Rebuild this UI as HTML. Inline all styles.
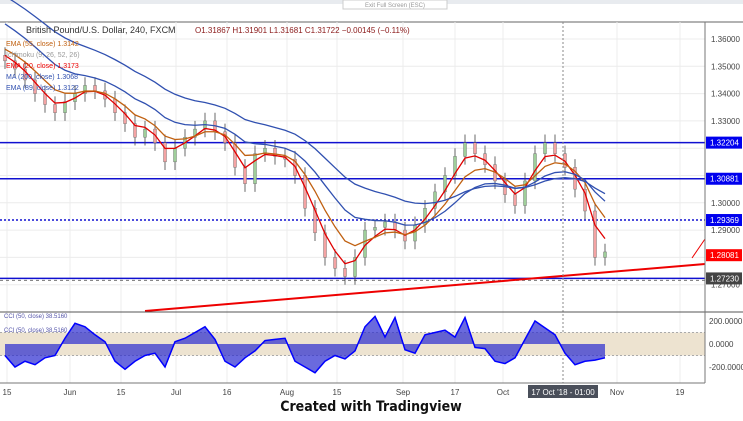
<!DOCTYPE html>
<html><head><meta charset="utf-8"><style>
body{margin:0;width:743px;height:421px;background:#fff;overflow:hidden;font-family:"Liberation Sans",sans-serif}
svg{position:absolute;left:0;top:0}
</style></head><body>
<svg width="743" height="421">
<rect x="0" y="0" width="743" height="4" fill="#e8ebef"/>
<rect x="343" y="0" width="104" height="9" fill="#fff" stroke="#ccc"/>
<text x="395" y="7" font-size="6" fill="#999" text-anchor="middle">Exit Full Screen (ESC)</text>
<line x1="0" y1="22" x2="743" y2="22" stroke="#666"/>
<g id="grid"></g>
<g id="price"></g>
<g id="cci"></g>
<g id="axes"></g>
<text x="371" y="411" font-size="14" font-weight="bold" fill="#111" text-anchor="middle" font-family="'DejaVu Sans Condensed','Liberation Sans Narrow',sans-serif">Created with Tradingview</text>
</svg>
<script>
const closes=[1.352,1.349,1.345,1.340,1.336,1.333,1.337,1.340,1.343,1.341,1.338,1.333,1.329,1.324,1.327,1.322,1.315,1.320,1.324,1.327,1.330,1.326,1.322,1.313,1.307,1.318,1.320,1.317,1.316,1.310,1.298,1.289,1.280,1.276,1.273,1.280,1.290,1.291,1.293,1.290,1.286,1.292,1.298,1.304,1.310,1.317,1.322,1.318,1.314,1.308,1.303,1.299,1.308,1.318,1.322,1.318,1.313,1.305,1.297,1.280,1.282];
const cciValues=[-100,-200,-150,-180,-120,-100,50,180,150,80,20,-150,-220,-150,-100,-80,-200,20,50,100,150,40,-150,-200,-120,-60,30,40,50,-150,-200,-250,-150,-100,-130,-60,150,240,60,230,-50,-80,80,100,120,60,230,-30,-40,-150,-170,-120,40,200,140,80,-80,-180,-150,-140,-120];
const priceTicks=[1.36,1.35,1.34,1.33,1.30,1.29,1.27];
const levels=[1.32204,1.30881,1.29369,1.27230];
const timeLabels=["15","Jun","15","Jul","16","Aug","15","Sep","17","Oct","Nov","19"];
const timeIdx=[0.2,6.5,11.6,17.1,22.2,28.2,33.2,39.8,45,49.8,61.2,67.5];
const cciTicks=[200,0,-200];
const NS="http://www.w3.org/2000/svg";
const py=p=>39+(1.36-p)*2730;
const px=i=>5+i*10;
const cy=v=>344-v*0.115;
function mk(tag,attrs,parent){const e=document.createElementNS(NS,tag);for(const k in attrs)e.setAttribute(k,attrs[k]);document.getElementById(parent).appendChild(e);return e;}
timeIdx.forEach(t=>{const l=mk('line',{x1:px(t),x2:px(t),y1:22,y2:383,stroke:'#ececec'},'grid');

});
[1.36,1.35,1.34,1.33,1.32,1.31,1.30,1.29,1.28,1.27].forEach(p=>{const l=mk('line',{x1:0,x2:705,y1:py(p),y2:py(p),stroke:'#ececec'},'grid');

});
levels.forEach((p,k)=>{const l=mk('line',{x1:0,x2:705,y1:py(p),y2:py(p),stroke:'#1010d0','stroke-width':1.5,'stroke-dasharray':k==2?'2,2':'none'},'price');

});
const dl=mk('line',{x1:0,x2:705,y1:py(1.2723)+2,y2:py(1.2723)+2,stroke:'#777','stroke-dasharray':'3,3'},'price');


closes.forEach((c,i)=>{const o=i?closes[i-1]:c+0.002;const up=c>=o;
const hi=Math.max(o,c)+0.003,lo=Math.min(o,c)-0.003;
const w=mk('line',{x1:px(i),x2:px(i),y1:py(hi),y2:py(lo),stroke:'#444','stroke-width':0.8},'price');


const b=mk('rect',{x:px(i)-1.5,width:3,y:py(Math.max(o,c)),height:Math.max(1,Math.abs(py(o)-py(c))),fill:up?'#9fcf9a':'#f4a3a3',stroke:'#666','stroke-width':0.4},'price');

});
function ema(n,seed){let e=seed,out=[];closes.forEach(c=>{e=e+(c-e)*2/(n+1);out.push(e);});return out;}
[[ema(3,1.356),'#e00000'],[ema(6,1.358),'#c06010'],[ema(12,1.368),'#3050b0'],[ema(22,1.378),'#3050b0']].forEach(([s,col])=>{
const l=mk('polyline',{points:s.map((v,i)=>px(i)+','+py(v)).join(' '),fill:'none',stroke:col,'stroke-width':1.3},'price');

});
const t1=mk('line',{x1:145,y1:311,x2:705,y2:264,stroke:'#e00',"stroke-width":2},'price');


const t2=mk('line',{x1:692,y1:258,x2:705,y2:239,stroke:'#e00',"stroke-width":1},'price');


const vl=mk('line',{x1:563,x2:563,y1:22,y2:383,stroke:'#888','stroke-dasharray':'2,2'},'price');


const leg=[["British Pound/U.S. Dollar, 240, FXCM",'#333',9,26,33],["O1.31867  H1.31901  L1.31681  C1.31722  −0.00145 (−0.11%)",'#8b1a1a',8,195,33],["EMA (55, close)  1.3142",'#c06010',7,6,46],["Ichimoku (9, 26, 52, 26)",'#999',7,6,57],["EMA (20, close)  1.3173",'#e00',7,6,68],["MA (200, close)  1.3068",'#3050b0',7,6,79],["EMA (89, close)  1.3122",'#3050b0',7,6,90]];
leg.forEach(([t,c,fs,x,y])=>{const e=mk('text',{x:x,y:y,'font-size':fs,fill:c},'price');e.textContent=t;

});
const sep=mk('line',{x1:0,x2:743,y1:312,y2:312,stroke:'#555'},'cci');


const band=mk('rect',{x:0,width:705,y:cy(100),height:cy(-100)-cy(100),fill:'#ede3d0'},'cci');


[100,-100].forEach(v=>{const l=mk('line',{x1:0,x2:705,y1:cy(v),y2:cy(v),stroke:'#aaa','stroke-dasharray':'2,2'},'cci');

});
for(let i=0;i<cciValues.length-1;i++){for(let k=0;k<10;k++){const f=k/10;const v=cciValues[i]*(1-f)+cciValues[i+1]*f;
const l=mk('line',{x1:px(i)+k+0.5,x2:px(i)+k+0.5,y1:cy(0),y2:cy(v),stroke:'#2a2ad0','stroke-width':0.7},'cci');

}}
const cl=mk('polyline',{points:cciValues.map((v,i)=>px(i)+','+cy(v)).join(' '),fill:'none',stroke:'#0000ff','stroke-width':1.5},'cci');


[["CCI (50, close)  38.5160",318],["CCI (50, close)  38.5160",332]].forEach(([t,y])=>{const e=mk('text',{x:4,y:y,'font-size':6,fill:'#55a'},'cci');e.textContent=t;

});
const ra=mk('line',{x1:705,x2:705,y1:22,y2:383,stroke:'#777'},'axes');


const ba=mk('line',{x1:0,x2:705,y1:383,y2:383,stroke:'#777'},'axes');


priceTicks.forEach(p=>{const e=mk('text',{x:711,y:py(p)+3,'font-size':8,fill:'#444'},'axes');e.textContent=p.toFixed(5);

});
cciTicks.forEach(v=>{const e=mk('text',{x:709,y:cy(v)+3,'font-size':8,fill:'#444'},'axes');e.textContent=v.toFixed(4);

});
levels.concat([1.28081]).forEach((p,k)=>{const r=mk('rect',{x:706,y:py(p)-6,width:36,height:12,fill:k==4?'#f00':(k==3?'#444':'#0000ee')},'axes');


const e=mk('text',{x:710,y:py(p)+3,'font-size':8,fill:'#fff'},'axes');e.textContent=p.toFixed(5);

});
timeLabels.forEach((t,k)=>{const e=mk('text',{x:px(timeIdx[k]),y:395,'font-size':8,fill:'#444','text-anchor':'middle'},'axes');e.textContent=t;

});
const tb=mk('rect',{x:528,y:385,width:70,height:13,fill:'#4a4f5a'},'axes');


const tt=mk('text',{x:563,y:395,'font-size':8,fill:'#fff','text-anchor':'middle'},'axes');tt.textContent="17 Oct '18 - 01:00";


</script>
</body></html>
